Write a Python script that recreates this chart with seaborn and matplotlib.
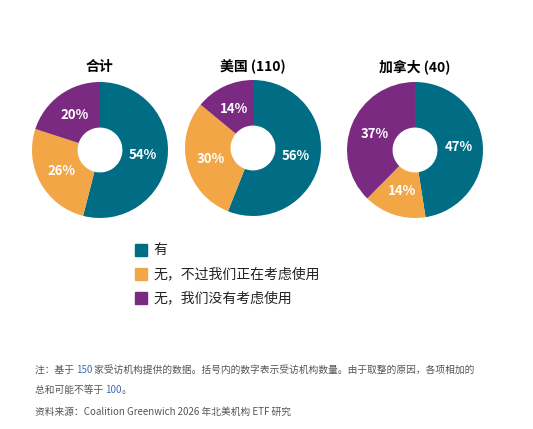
import matplotlib
matplotlib.use("Agg")
import matplotlib.pyplot as plt
import seaborn as sns

sns.set_theme(style="white")
plt.rcParams['font.family'] = ['Noto Sans CJK SC', 'DejaVu Sans']

titles = ['合计', '美国 (110)', '加拿大 (40)']
shares = [[54, 26, 20], [56, 30, 14], [48, 15, 38]]
legend_labels = ['有', '无，不过我们正在考虑使用', '无，我们没有考虑使用']
colors = ['#006d84', '#f2a646', '#7b2a82']

W, H = 533, 429
fig = plt.figure(figsize=(W / 100, H / 100), dpi=100)

centers = [(100, 150), (253, 148), (415, 150)]
R = 68
for (cx, cy), title, vals in zip(centers, titles, shares):
    ax = fig.add_axes([(cx - R) / W, 1 - (cy + R) / H, 2 * R / W, 2 * R / H])
    wedges, _, autotexts = ax.pie(vals, colors=colors, startangle=90, counterclock=False,
                                  radius=1, wedgeprops=dict(width=0.67, edgecolor='none'),
                                  autopct='%d%%', pctdistance=0.64)
    for t in autotexts:
        t.set_color('white')
        t.set_fontweight('bold')
        t.set_fontsize(9.5)
    ax.set_xlim(-1, 1)
    ax.set_ylim(-1, 1)
    ax.set_aspect('equal')
    fig.text(cx / W, 1 - 67 / H, title, ha='center', va='center',
             fontsize=10, fontweight='bold', color='black')

for i, lab in enumerate(legend_labels):
    y = 250 + i * 24
    fig.patches.append(plt.Rectangle((135 / W, 1 - (y + 6) / H), 12 / W, 12 / H,
                                     color=colors[i], transform=fig.transFigure, figure=fig))
    fig.text(153 / W, 1 - y / H, lab, ha='left', va='center', fontsize=10, color='#222222')

gray = '#555555'
blue = '#3b6fb6'
lines = [
    [('注：基于 ', gray), ('150', blue), (' 家受访机构提供的数据。括号内的数字表示受访机构数量。由于取整的原因，各项相加的', gray)],
    [('总和可能不等于 ', gray), ('100', blue), ('。', gray)],
    [('资料来源：Coalition Greenwich 2026 年北美机构 ETF 研究', gray)],
]
fig.canvas.draw()
renderer = fig.canvas.get_renderer()
for row, y in zip(lines, [370, 390, 412]):
    x = 35
    for s, c in row:
        t = fig.text(x / W, 1 - y / H, s, ha='left', va='center', fontsize=7, color=c)
        x += t.get_window_extent(renderer).width

fig.savefig('out.png', dpi=100)
